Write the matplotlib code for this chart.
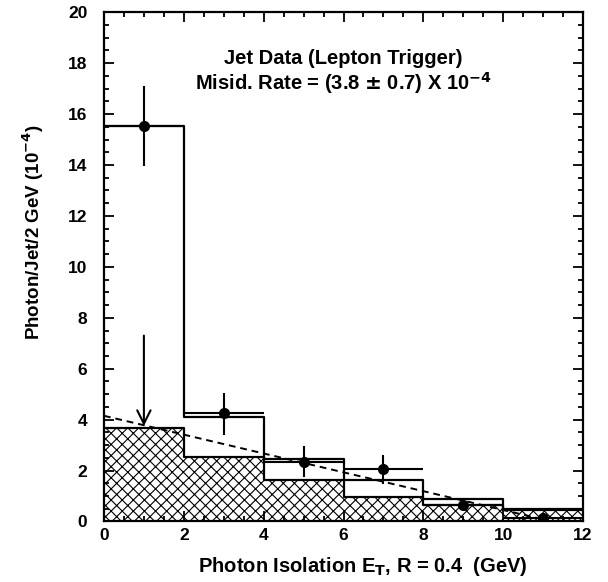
import numpy as np
import matplotlib
matplotlib.use("Agg")
import matplotlib.pyplot as plt
from matplotlib.ticker import MultipleLocator

# bins in photon isolation E_T (GeV)
edges = [0, 2, 4, 6, 8, 10, 12]
x_pts = [1, 3, 5, 7, 9, 11]
# data points (10^-4 per 2 GeV)
data_y = [15.55, 4.25, 2.32, 2.05, 0.65, 0.15]
data_lo = [13.96, 3.40, 1.73, 1.47, 0.45, 0.05]
data_hi = [17.10, 5.03, 2.96, 2.60, 0.85, 0.25]
# open histogram and hatched histogram
open_hist = [15.55, 4.10, 2.45, 1.63, 0.87, 0.49]
hatch_hist = [3.68, 2.55, 1.63, 0.97, 0.65, 0.45]
# dashed fit line
fit_x = [0, 11]
fit_y = [4.15, 0.08]
# upper-limit arrow in first bin
arrow_x = 1
arrow_from = 7.3
arrow_to = 3.75

plt.rcParams['font.family'] = ['Liberation Sans', 'DejaVu Sans']
plt.rcParams['font.weight'] = 'bold'
plt.rcParams['mathtext.default'] = 'bf'
plt.rcParams['hatch.linewidth'] = 0.8

fig = plt.figure(figsize=(6.08, 5.82), dpi=100)
ax = fig.add_axes([0.171, 0.104, 0.788, 0.875])

# hatched histogram
hx = np.array(edges)
hy = np.array(hatch_hist + [hatch_hist[-1]])
ax.fill_between(hx, 0, hy, step='post', facecolor='white', edgecolor='black',
                hatch='xxx', linewidth=0)
ax.step(hx, hy, where='post', color='black', lw=1.6)

# open histogram
oy = np.array(open_hist + [open_hist[-1]])
ax.step(hx, oy, where='post', color='black', lw=1.6)

# dashed fit line
ax.plot(fit_x, fit_y, color='black', lw=1.4, ls=(0, (3.5, 2.5)))

# data points with errors
yerr = [np.array(data_y) - np.array(data_lo), np.array(data_hi) - np.array(data_y)]
ax.errorbar(x_pts, data_y, xerr=1, yerr=yerr, fmt='o', color='black', ms=7,
            elinewidth=1.5, capsize=0)

# arrow
ax.annotate('', xy=(arrow_x, arrow_to), xytext=(arrow_x, arrow_from),
            arrowprops=dict(arrowstyle='->', color='black', lw=1.5,
                            mutation_scale=24, shrinkA=0, shrinkB=0))

ax.text(6, 18.2, 'Jet Data (Lepton Trigger)', ha='center', va='center',
        fontsize=14.5, fontweight='bold')
ax.text(6, 17.2, r'Misid. Rate = (3.8 $\pm$ 0.7) X 10$^{-4}$',
        ha='center', va='center', fontsize=14.5, fontweight='bold')

ax.set_xlim(0, 12)
ax.set_ylim(0, 20)
ax.xaxis.set_major_locator(MultipleLocator(2))
ax.xaxis.set_minor_locator(MultipleLocator(0.5))
ax.yaxis.set_major_locator(MultipleLocator(2))
ax.yaxis.set_minor_locator(MultipleLocator(0.5))
ax.tick_params(which='both', direction='in', top=True, right=True, width=1.3,
               labelsize=12.5)
ax.tick_params(which='major', length=7)
ax.tick_params(which='minor', length=3.5)
ax.tick_params(axis='y', which='major', pad=12)
ax.tick_params(axis='x', which='major', pad=5)
for lab in ax.get_xticklabels() + ax.get_yticklabels():
    lab.set_fontweight('bold')
for sp in ax.spines.values():
    sp.set_linewidth(1.6)

ax.set_xlabel(r'Photon Isolation E$_{T}$, R = 0.4  (GeV)', fontsize=14.5,
              fontweight='bold')
ax.xaxis.set_label_coords(0.54, -0.065)
ax.set_ylabel(r'Photon/Jet/2 GeV (10$^{-4}$)', fontsize=13.5,
              fontweight='bold')
ax.yaxis.set_label_coords(-0.12, 0.568)

fig.savefig('out.png', dpi=100)
